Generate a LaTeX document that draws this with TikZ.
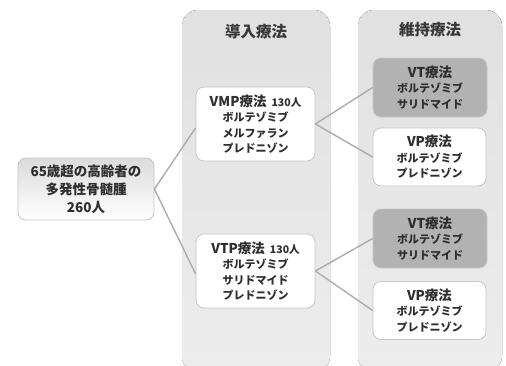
\documentclass[tikz,border=0pt]{standalone}
\usepackage{fontspec}
\setmainfont{Noto Sans CJK JP}
\newcommand\ttl[1]{{\fontsize{13.5}{15.5}\selectfont #1}}
\newcommand\smallnum[1]{{\fontsize{10.5}{15.5}\selectfont #1}}
\begin{document}
\begin{tikzpicture}[x=1pt,y=-1pt,
  column/.style={rounded corners=16pt, top color=gray!24, bottom color=gray!14, draw=none},
  box/.style={rounded corners=8pt, draw=gray!45, line width=0.8pt, align=center, font=\bfseries\fontsize{11}{15.5}\selectfont, text=black!82, inner sep=0pt},
  whitebox/.style={box, fill=white},
  darkbox/.style={box, fill=gray!60},
  rootbox/.style={box, top color=gray!28, bottom color=white, font=\bfseries\fontsize{13.5}{18}\selectfont},
  link/.style={draw=gray!65, line width=1.4pt},
  hdr/.style={font=\bfseries\fontsize{15.5}{18}\selectfont, text=black!78}]
\useasboundingbox (0,0) rectangle (506,365);
\begin{scope}
\clip (0,0) rectangle (506,365);
\fill[column] (182,10) rectangle (330,372);
\fill[column] (358,10) rectangle (502,372);
\end{scope}
\node[hdr] (h1) at (256,32) {導入療法};
\node[hdr] (h2) at (430,30) {維持療法};
\node[rootbox, minimum width=136pt, minimum height=62pt] (root) at (86,189) {65歳超の高齢者の\\多発性骨髄腫\\260人};
\node[whitebox, minimum width=119pt, minimum height=74pt] (vmp) at (255.5,124) {\ttl{VMP療法}\ \ \smallnum{130人}\\ボルテゾミブ\\メルファラン\\プレドニゾン};
\node[whitebox, minimum width=119pt, minimum height=74pt] (vtp) at (255.5,271) {\ttl{VTP療法}\ \ \smallnum{130人}\\ボルテゾミブ\\サリドマイド\\プレドニゾン};
\node[darkbox, minimum width=114pt, minimum height=59pt] (vt1) at (430,87.5) {\ttl{VT療法}\\ボルテゾミブ\\サリドマイド};
\node[whitebox, minimum width=113pt, minimum height=58pt] (vp1) at (429.5,157) {\ttl{VP療法}\\ボルテゾミブ\\プレドニゾン};
\node[darkbox, minimum width=114pt, minimum height=59pt] (vt2) at (430,238.5) {\ttl{VT療法}\\ボルテゾミブ\\サリドマイド};
\node[whitebox, minimum width=113pt, minimum height=58pt] (vp2) at (429.5,310.5) {\ttl{VP療法}\\ボルテゾミブ\\プレドニゾン};
\draw[link] (root.east) -- ([yshift=-4pt]vmp.west);
\draw[link] (root.east) -- ([yshift=-3pt]vtp.west);
\draw[link] (vmp.east) -- (vt1.west);
\draw[link] (vmp.east) -- (vp1.west);
\draw[link] (vtp.east) -- (vt2.west);
\draw[link] (vtp.east) -- (vp2.west);
\end{tikzpicture}
\end{document}
